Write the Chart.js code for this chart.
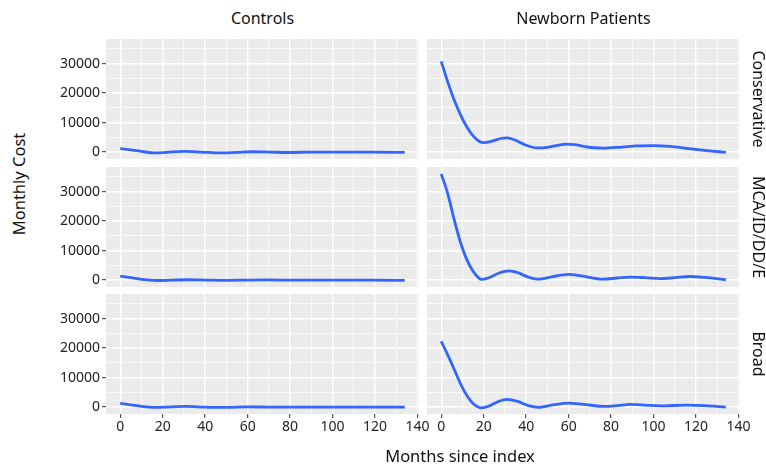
<!DOCTYPE html>
<html>
<head>
<meta charset="utf-8">
<script src="https://cdn.jsdelivr.net/npm/chart.js@4/dist/chart.umd.min.js"></script>
<style>
  body { margin: 0; background: #fff; width: 766px; height: 465px; position: relative; overflow: hidden;
         font-family: "Noto Sans", sans-serif; color: #111; }
  .box { position: absolute; }
  .lbl { position: absolute; white-space: nowrap; font-size: 16px; color: #111; transform: translate(-50%, -50%); }
</style>
</head>
<body>

<script>
// tick values (ggplot major / minor grid)
const xMajorTicks = [0, 20, 40, 60, 80, 100, 120, 140];
const xMinorTicks = [10, 30, 50, 70, 90, 110, 130];
const yMajorTicks = [0, 10000, 20000, 30000];
const yMinorTicks = [5000, 15000, 25000, 35000];

// Controls - Conservative
const ctrlConsMonths = [0, 5, 10, 16, 22, 30, 38, 47, 55, 62, 70, 80, 90, 100, 110, 120, 134];
const ctrlConsCost   = [1200, 700, 200, -300, -100, 200, 0, -300, -100, 100, 0, -150, 0, -50, 0, -50, -100];
// Controls - MCA/ID/DD/E
const ctrlMcaMonths = [0, 5, 10, 17, 24, 32, 40, 50, 60, 70, 80, 90, 100, 110, 120, 134];
const ctrlMcaCost   = [1300, 800, 250, -150, -50, 100, 0, -100, 0, 50, -50, 0, -50, 0, -50, -100];
// Controls - Broad
const ctrlBroadMonths = [0, 5, 10, 16, 24, 31, 40, 50, 60, 70, 80, 90, 100, 110, 120, 134];
const ctrlBroadCost   = [1250, 750, 250, -100, 50, 200, 0, -100, 50, 0, -50, 0, 0, -50, 0, -50];

// Newborn Patients - Conservative
const nbConsMonths = [0, 3, 6, 9, 12, 15, 18, 20, 24, 28, 31, 35, 40, 45, 50, 55, 59, 63, 68, 76, 85, 92, 100, 108, 116, 125, 134];
const nbConsCost   = [30800, 24000, 17800, 12800, 8600, 5500, 3600, 3200, 3700, 4600, 4800, 4000, 2300, 1400, 1600, 2300, 2700, 2500, 1800, 1300, 1700, 2100, 2200, 1900, 1200, 500, -100];
// Newborn Patients - MCA/ID/DD/E
const nbMcaMonths = [0, 3, 6, 9, 12, 15, 19, 22, 27, 32, 36, 41, 46, 52, 60, 66, 76, 83, 89, 96, 103, 110, 117, 124, 134];
const nbMcaCost   = [36000, 29500, 20800, 13000, 7000, 3000, 200, 700, 2300, 3100, 2500, 1000, 300, 1100, 1900, 1400, 300, 700, 1000, 800, 500, 800, 1200, 900, 100];
// Newborn Patients - Broad
const nbBroadMonths = [0, 3, 6, 9, 12, 15, 19, 23, 27, 31, 36, 41, 46, 53, 60, 67, 77, 83, 89, 97, 105, 115, 124, 134];
const nbBroadCost   = [22300, 17800, 13000, 8000, 4000, 1200, -300, 500, 1900, 2600, 1900, 500, -100, 800, 1350, 900, 200, 500, 900, 600, 400, 650, 500, 0];

const colTitles = ['Controls', 'Newborn Patients'];
const rowTitles = ['Conservative', 'MCA/ID/DD/E', 'Broad'];

// scale limits (ggplot default 5% expansion)
const xMin = -6.7, xMax = 140.7;
const yMin = -2360, yMax = 38380;

const FONT = '"Noto Sans", sans-serif';
const panelW = 313, panelH = 120, yAxisW = 66, xAxisH = 32, padRight = 16;
const colLeft = [106, 427];
const rowTop = [39, 166.5, 294];

const panelBg = {
  id: 'panelBg',
  beforeDraw(chart) {
    const { ctx, chartArea: a } = chart;
    ctx.save();
    ctx.fillStyle = '#EBEBEB';
    ctx.fillRect(a.left, a.top, a.right - a.left, a.bottom - a.top);
    ctx.restore();
  }
};

function makePanel(row, col, months, costs) {
  const showY = col === 0;
  const showX = row === 2;
  const w = panelW + padRight + (showY ? yAxisW : 0);
  const h = panelH + (showX ? xAxisH : 0);

  const box = document.createElement('div');
  box.className = 'box';
  box.style.left = (colLeft[col] - (showY ? yAxisW : 0)) + 'px';
  box.style.top = rowTop[row] + 'px';
  const canvas = document.createElement('canvas');
  canvas.width = w;
  canvas.height = h;
  box.appendChild(canvas);
  document.body.appendChild(box);

  const xTicks = xMajorTicks.concat(xMinorTicks);
  const yTicks = yMajorTicks.concat(yMinorTicks);

  new Chart(canvas.getContext('2d'), {
    type: 'line',
    data: {
      datasets: [{
        data: months.map((m, i) => ({ x: m, y: costs[i] })),
        borderColor: '#3366FF',
        borderWidth: 2.8,
        pointRadius: 0,
        fill: false,
        cubicInterpolationMode: 'monotone'
      }]
    },
    options: {
      responsive: false,
      animation: false,
      layout: { padding: { left: 0, right: padRight, top: 0, bottom: 0 } },
      plugins: { legend: { display: false }, tooltip: { enabled: false } },
      scales: {
        x: {
          type: 'linear', min: xMin, max: xMax,
          afterBuildTicks: s => { s.ticks = xTicks.map(v => ({ value: v })); },
          afterFit: s => { s.height = showX ? xAxisH : 0; s.paddingLeft = 0; s.paddingRight = 0; },
          border: { display: false },
          ticks: {
            display: showX, autoSkip: false, maxRotation: 0, padding: 1,
            color: '#222', font: { family: FONT, size: 14 },
            callback: v => xMajorTicks.includes(v) ? String(v) : ''
          },
          grid: {
            color: '#FFFFFF',
            lineWidth: c => xMajorTicks.includes(c.tick.value) ? 1.4 : 0.7,
            drawTicks: showX, tickLength: 4, tickWidth: 1,
            tickColor: c => xMajorTicks.includes(c.tick.value) ? '#333333' : 'rgba(0,0,0,0)'
          }
        },
        y: {
          type: 'linear', min: yMin, max: yMax,
          afterBuildTicks: s => { s.ticks = yTicks.map(v => ({ value: v })); },
          afterFit: s => { s.width = showY ? yAxisW : 0; s.paddingTop = 0; s.paddingBottom = 0; },
          border: { display: false },
          ticks: {
            display: showY, autoSkip: false, padding: 2,
            color: '#222', font: { family: FONT, size: 14 },
            callback: v => yMajorTicks.includes(v) ? String(v) : ''
          },
          grid: {
            color: '#FFFFFF',
            lineWidth: c => yMajorTicks.includes(c.tick.value) ? 1.4 : 0.7,
            drawTicks: showY, tickLength: 4, tickWidth: 1,
            tickColor: c => yMajorTicks.includes(c.tick.value) ? '#333333' : 'rgba(0,0,0,0)'
          }
        }
      }
    },
    plugins: [panelBg]
  });
}

function addLabel(text, x, y, size, rotate) {
  const d = document.createElement('div');
  d.className = 'lbl';
  d.textContent = text;
  d.style.left = x + 'px';
  d.style.top = y + 'px';
  d.style.fontSize = size + 'px';
  if (rotate) d.style.transform = 'translate(-50%, -50%) rotate(' + rotate + 'deg)';
  document.body.appendChild(d);
}

makePanel(0, 0, ctrlConsMonths, ctrlConsCost);
makePanel(1, 0, ctrlMcaMonths, ctrlMcaCost);
makePanel(2, 0, ctrlBroadMonths, ctrlBroadCost);
makePanel(0, 1, nbConsMonths, nbConsCost);
makePanel(1, 1, nbMcaMonths, nbMcaCost);
makePanel(2, 1, nbBroadMonths, nbBroadCost);

// strip labels
colTitles.forEach((t, i) => addLabel(t, colLeft[i] + panelW / 2, 18, 16));
rowTitles.forEach((t, i) => addLabel(t, 759, rowTop[i] + panelH / 2, 16, 90));

// axis titles
addLabel('Monthly Cost', 18, 184, 16.5, -90);
addLabel('Months since index', 460, 455, 16.5);
</script>
</body>
</html>
